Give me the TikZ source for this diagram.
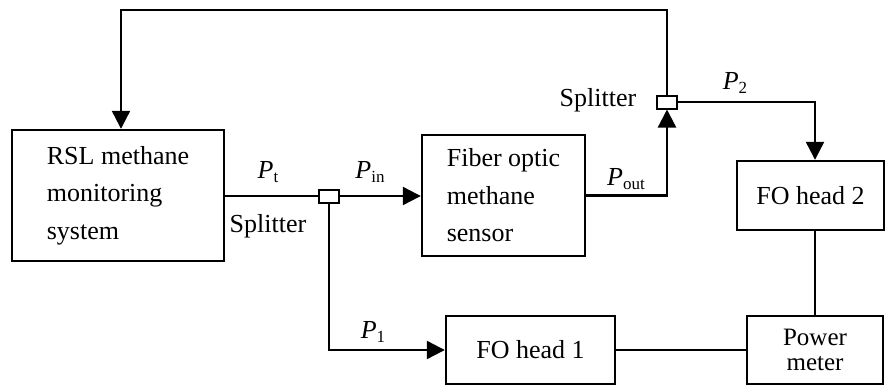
\documentclass[tikz,border=0pt]{standalone}
\usepackage{fontspec}
\setmainfont{Liberation Serif}
\usetikzlibrary{arrows.meta}
\newcommand\Plab[1]{\textit{P}\raisebox{-0.4ex}{\fontsize{17}{17}\selectfont #1}}
\begin{document}
\begin{tikzpicture}[x=1pt,y=-1pt,
  box/.style={draw, line width=2.4pt, inner sep=0pt, align=left},
  spl/.style={draw, line width=2pt, fill=white, minimum width=20pt, minimum height=13pt, inner sep=0pt},
  wire/.style={line width=2.3pt},
  arr/.style={wire, -{Triangle[length=18pt,width=18pt]}},
  lab/.style={inner sep=0pt},
  font=\fontsize{26}{37.5}\selectfont]
\useasboundingbox (0,0) rectangle (886,389);

\node[box, minimum width=212pt, minimum height=131pt] (rsl) at (118,195.5) {RSL methane\\monitoring\\system};
\node[box, minimum width=163pt, minimum height=121pt] (fib) at (503.5,195.5) {Fiber optic\\methane\\sensor};
\node[box, align=center, minimum width=147pt, minimum height=69pt] (fo2) at (810.5,195.5) {FO head 2};
\node[box, align=center, minimum width=136pt, minimum height=68pt, font=\fontsize{25}{25.5}\selectfont] (pm) at (815,350) {Power\\meter};
\node[box, align=center, minimum width=169pt, minimum height=68pt] (fo1) at (530.5,350) {FO head 1};
\node[spl] (sp1) at (329,196) {};
\node[spl] (sp2) at (667,102) {};
\coordinate (tl) at (121,10);

\draw[wire] (rsl.east |- sp1.west) -- (sp1.west);
\draw[arr] (sp1.east) -- (fib.west |- sp1.east);
\draw[arr] (sp1.south) |- (fo1.west);
\draw[arr] (fib.east) -| (sp2.south);
\draw[arr] (sp2.north) |- (tl) -- (tl |- rsl.north);
\draw[arr] (sp2.east) -| (fo2.north -| pm.north);
\draw[wire] (pm.north) -- (pm.north |- fo2.south);
\draw[wire] (fo1.east) -- (pm.west |- fo1.east);

\node[lab] (lpt) at (268,172) {\Plab{t}};
\node[lab] (lpin) at (370,172) {\Plab{in}};
\node[lab] (ls1) at (268,226) {Splitter};
\node[lab] (lpout) at (626,179) {\Plab{out}};
\node[lab] (ls2) at (598,100) {Splitter};
\node[lab] (lp2) at (735,83) {\Plab{2}};
\node[lab] (lp1) at (373,332) {\Plab{1}};
\end{tikzpicture}
\end{document}
